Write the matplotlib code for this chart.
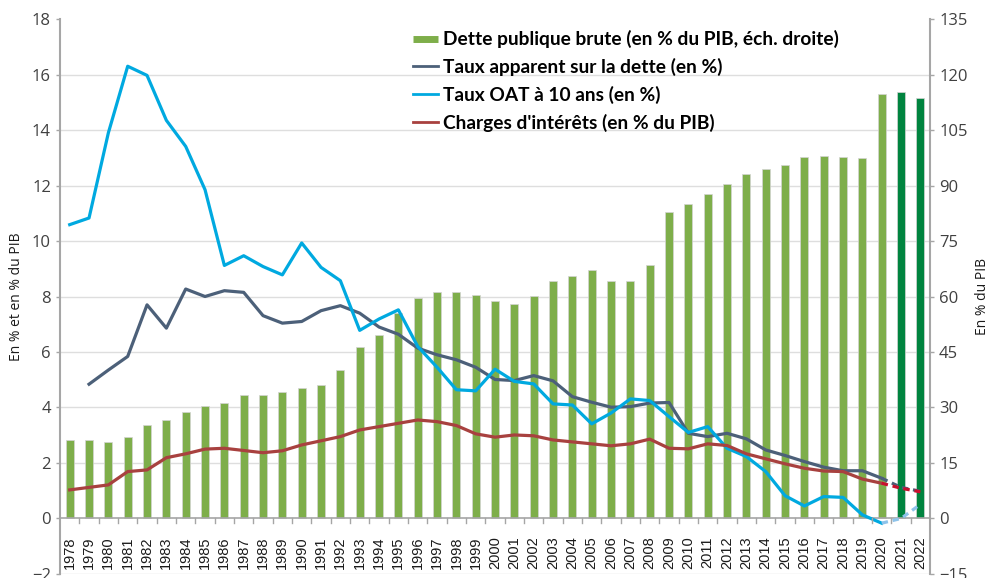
import matplotlib
matplotlib.use('Agg')
import matplotlib.pyplot as plt
from matplotlib.lines import Line2D
import numpy as np

years = list(range(1978, 2023))

# Dette publique brute (% PIB, right axis)
dette = [21.1, 21.1, 20.6, 22.0, 25.2, 26.6, 28.9, 30.5, 31.1, 33.5,
         33.3, 34.2, 35.4, 36.2, 40.0, 46.4, 49.7, 55.6, 59.7, 61.1,
         61.1, 60.3, 58.7, 58.1, 60.1, 64.1, 65.6, 67.2, 64.3, 64.3,
         68.6, 82.8, 85.1, 87.6, 90.4, 93.2, 94.6, 95.5, 97.8, 98.1,
         97.8, 97.4, 114.8, 115.3, 113.7]

# Taux apparent sur la dette (%), observed to 2020
taux_app = [np.nan, 4.84, 5.35, 5.84, 7.70, 6.86, 8.27, 8.00, 8.21, 8.15,
            7.31, 7.04, 7.10, 7.49, 7.67, 7.40, 6.90, 6.64, 6.14, 5.90,
            5.72, 5.45, 5.01, 4.97, 5.15, 4.96, 4.39, 4.19, 4.01, 4.03,
            4.16, 4.18, 3.07, 2.95, 3.07, 2.87, 2.47, 2.27, 2.05, 1.85,
            1.72, 1.72, 1.45]
taux_app_prev = [1.45, 1.12, 0.98]

# Taux OAT 10 ans (%)
oat = [10.59, 10.83, 13.9, 16.30, 15.97, 14.35, 13.41, 11.85, 9.12, 9.47,
       9.08, 8.78, 9.93, 9.05, 8.57, 6.78, 7.19, 7.52, 6.20, 5.45,
       4.64, 4.60, 5.38, 4.94, 4.85, 4.13, 4.09, 3.41, 3.80, 4.31,
       4.25, 3.67, 3.10, 3.31, 2.53, 2.23, 1.69, 0.82, 0.45, 0.79,
       0.76, 0.13, -0.17]
oat_prev = [-0.17, 0.0, 0.51]

# Charges d'intérêts (% PIB)
charges = [1.03, 1.12, 1.21, 1.69, 1.75, 2.19, 2.33, 2.50, 2.53, 2.45,
           2.37, 2.44, 2.65, 2.80, 2.95, 3.19, 3.31, 3.43, 3.55, 3.49,
           3.35, 3.05, 2.93, 3.01, 2.98, 2.83, 2.76, 2.69, 2.62, 2.69,
           2.86, 2.53, 2.51, 2.69, 2.63, 2.33, 2.15, 1.97, 1.81, 1.71,
           1.69, 1.42, 1.27]
charges_prev = [1.27, 1.09, 0.96]

GREEN = '#7eae4a'
DARK_GREEN = '#00843f'
SLATE = '#4c6079'
BLUE = '#00a9e0'
RED = '#a8413f'
AXIS_GRAY = '#a6a6a6'
TEXT_GRAY = '#404040'

n = len(years)
x = np.arange(n)
x_obs = x[:43]
x_prev = x[42:]

fig = plt.figure(figsize=(9.89, 5.78), dpi=100)
ax2 = fig.add_axes([0.0607, 0.007, 0.8797, 0.960])  # bars, right scale
ax = ax2.twinx()                                   # lines, left scale

# bars on right scale
bar_colors = [GREEN] * 43 + [DARK_GREEN] * 2
ax2.bar(x, dette, width=0.42, color=bar_colors, edgecolor='#d4d4d4',
        linewidth=0.5, zorder=2)
ax2.set_ylim(-15, 135)
ax2.set_yticks(np.arange(-15, 136, 15))
ax2.yaxis.tick_right()
ax2.yaxis.set_label_position('right')
for v in np.arange(15, 121, 15):
    ax2.axhline(v, color='#dedede', lw=1.0, zorder=0)
ax2.axhline(-15, color='#dedede', lw=1.0, zorder=0)

# lines on left scale, above bars
ax.set_zorder(ax2.get_zorder() + 1)
ax.patch.set_visible(False)
lw = 2.3
ax.plot(x_obs, taux_app, color=SLATE, lw=lw)
ax.plot(x_obs, oat, color=BLUE, lw=lw)
ax.plot(x_obs, charges, color=RED, lw=lw)
ax.plot(x_prev, taux_app_prev, color=SLATE, lw=lw, ls=(0, (2, 1.5)))
ax.plot(x_prev, oat_prev, color='#8ec3ea', lw=lw, ls=(0, (2, 1.5)))
ax.plot(x_prev, charges_prev, color='#c8102e', lw=lw, ls=(0, (2, 1.5)))
ax.set_ylim(-2, 18)
ax.set_yticks(np.arange(-2, 19, 2))
ax.yaxis.tick_left()
ax.yaxis.set_label_position('left')
ax.axhline(0, color=AXIS_GRAY, lw=1.2, zorder=1)

ax2.set_xlim(-0.5, n - 0.5)

# spines
for a in (ax, ax2):
    for s in a.spines.values():
        s.set_visible(False)
ax.spines['left'].set_visible(True)
ax.spines['right'].set_visible(True)
ax.spines['left'].set_color(AXIS_GRAY)
ax.spines['right'].set_color(AXIS_GRAY)
ax.spines['left'].set_linewidth(1.5)
ax.spines['right'].set_linewidth(1.5)

# x axis: labels hang below the zero line
ax2.spines['bottom'].set_position(('data', 0))
ax2.set_xticks(x)
ax2.set_xticklabels([str(y) for y in years], rotation=90,
                    fontfamily='Liberation Sans', fontsize=10.5, color='#1a1a1a')
ax2.tick_params(axis='x', which='major', length=0, pad=13)
ax.tick_params(axis='x', bottom=False, labelbottom=False, top=False,
               labeltop=False)
# small boundary ticks under the zero line
for b in np.arange(0.5, n - 1, 1):
    ax.plot([b, b], [0, -0.15], color=AXIS_GRAY, lw=1.0, clip_on=False)

ax.tick_params(axis='y', labelsize=12, labelcolor=TEXT_GRAY, color=AXIS_GRAY,
               length=3, width=1)
ax2.tick_params(axis='y', labelsize=12, labelcolor=TEXT_GRAY, color=AXIS_GRAY,
                length=3, width=1)
for lab in ax.get_yticklabels() + ax2.get_yticklabels():
    lab.set_fontfamily('Open Sans')

ax.set_ylabel('En % et en % du PIB', fontsize=10, color='#1a1a1a',
              fontfamily='Open Sans', labelpad=6)
ax2.set_ylabel('En % du PIB', fontsize=10, color='#1a1a1a',
               fontfamily='Open Sans', rotation=90, labelpad=5)

handles = [
    Line2D([], [], color=GREEN, lw=5, solid_capstyle='butt'),
    Line2D([], [], color=SLATE, lw=2),
    Line2D([], [], color=BLUE, lw=2),
    Line2D([], [], color=RED, lw=2),
]
labels = ['Dette publique brute (en % du PIB, éch. droite)',
          'Taux apparent sur la dette (en %)',
          'Taux OAT à 10 ans (en %)',
          "Charges d'intérêts (en % du PIB)"]
fig.legend(handles, labels, loc='upper left', bbox_to_anchor=(0.408, 0.964),
           frameon=False, prop={'family': 'Lato', 'weight': 'bold', 'size': 13.8},
           handlelength=1.3, handletextpad=0.25, labelspacing=0.5, borderpad=0)

fig.savefig('out.png', dpi=100)
